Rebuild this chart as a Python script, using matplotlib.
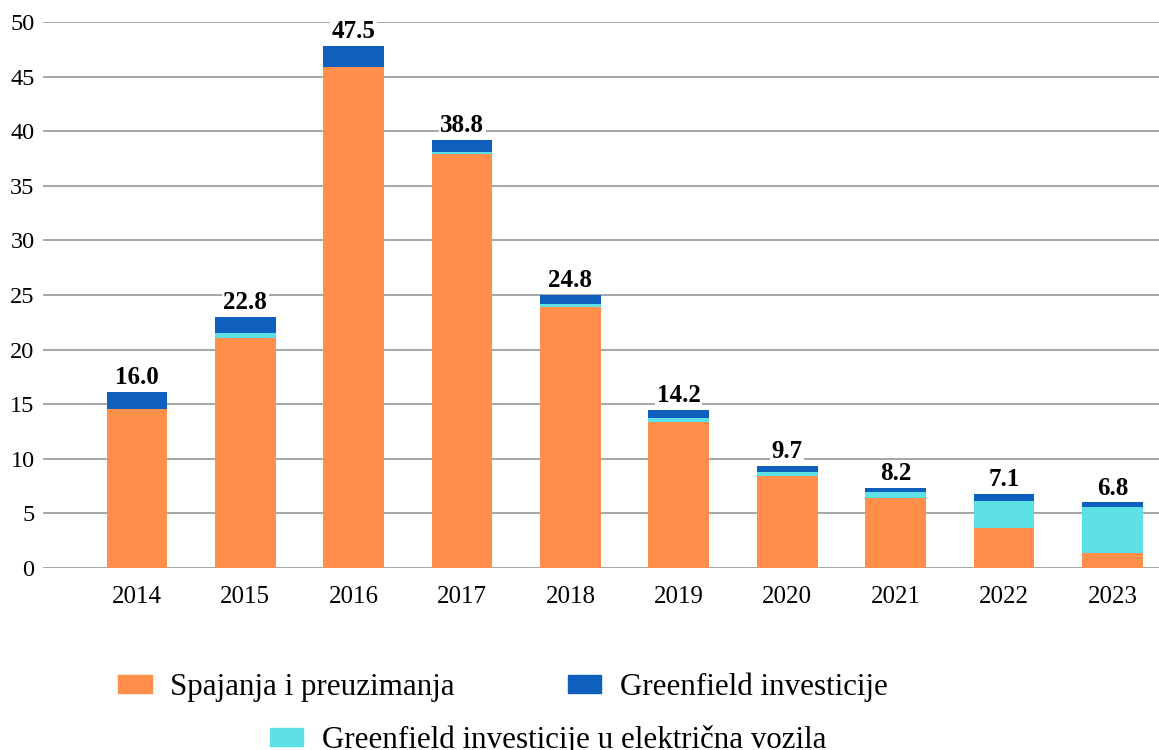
import numpy as np
import matplotlib
matplotlib.use("Agg")
import matplotlib.pyplot as plt
from matplotlib.patches import Patch

plt.rcParams['font.family'] = ['Liberation Serif', 'DejaVu Serif']

years = ["2014", "2015", "2016", "2017", "2018", "2019", "2020", "2021", "2022", "2023"]
spajanja = [14.6, 21.1, 45.9, 37.9, 23.9, 13.4, 8.45, 6.45, 3.65, 1.35]
greenfieldEv = [0.0, 0.4, 0.0, 0.2, 0.25, 0.35, 0.35, 0.55, 2.5, 4.25]
greenfield = [1.5, 1.5, 1.9, 1.1, 0.85, 0.75, 0.55, 0.3, 0.6, 0.4]
totalLabels = ["16.0", "22.8", "47.5", "38.8", "24.8", "14.2", "9.7", "8.2", "7.1", "6.8"]

cOrange = '#FF8F4A'
cBlue = '#0F5FBF'
cCyan = '#5DE1E6'

fig = plt.figure(figsize=(11.59, 7.5), dpi=100)
ax = fig.add_axes([0.037, 0.2427, 0.963, 0.728])

x = np.arange(len(years))
w = 0.56
ma = np.array(spajanja)
ev = np.array(greenfieldEv)
gf = np.array(greenfield)
ax.bar(x, ma, w, color=cOrange, zorder=2)
ax.bar(x, ev, w, bottom=ma, color=cCyan, zorder=2)
ax.bar(x, gf, w, bottom=ma + ev, color=cBlue, zorder=2)

tops = ma + ev + gf
for xi, top, lab in zip(x, tops, totalLabels):
    ax.annotate(lab, (xi, top), xytext=(0, 2), textcoords='offset points',
                ha='center', va='bottom', fontsize=18, fontweight='bold',
                bbox=dict(facecolor='white', edgecolor='none', pad=1),
                zorder=3)

ax.set_ylim(0, 50)
ax.set_xlim(-0.867, 9.43)
ax.set_yticks(np.arange(0, 51, 5))
ax.set_xticks(x)
ax.set_xticklabels(years)
ax.tick_params(axis='y', length=0, pad=6, labelsize=17.5)
ax.tick_params(axis='x', length=0, pad=13, labelsize=18)
ax.yaxis.grid(True, color='#a6a6a6', linewidth=1.4, zorder=0)
ax.set_axisbelow(True)
for s in ax.spines.values():
    s.set_visible(False)

h1 = [Patch(color=cOrange, label='Spajanja i preuzimanja'),
      Patch(color=cBlue, label='Greenfield investicije')]
h2 = [Patch(color=cCyan, label='Greenfield investicije u električna vozila')]
legKw = dict(frameon=False, fontsize=22.3, handlelength=1.08, handleheight=0.5,
             handletextpad=0.6)
fig.legend(handles=h1, loc='center', bbox_to_anchor=(0.434, 0.084), ncol=2,
           columnspacing=3.65, **legKw)
fig.legend(handles=h2, loc='center', bbox_to_anchor=(0.473, 0.013), **legKw)

fig.savefig('out.png', dpi=100)
